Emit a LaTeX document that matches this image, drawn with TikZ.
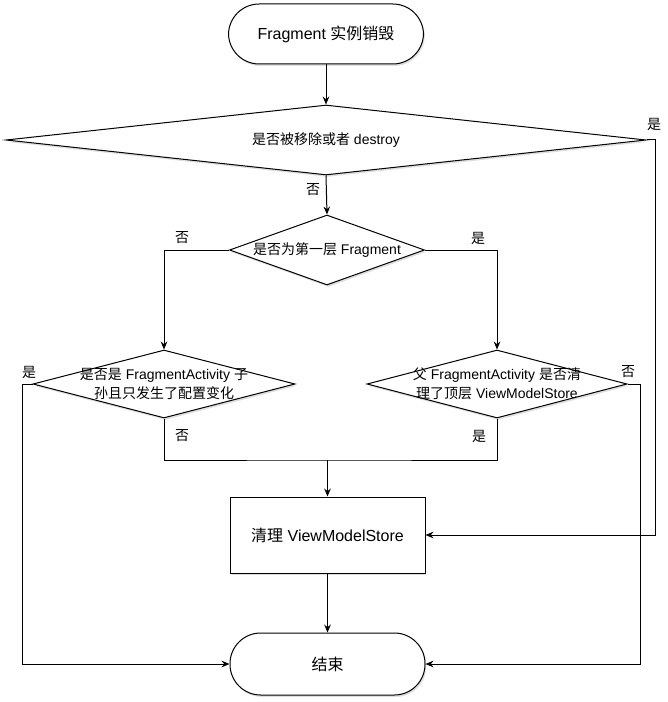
\documentclass[tikz,border=0pt]{standalone}
\usepackage{fontspec}
\setmainfont{Liberation Sans}
\newfontfamily\cjk{Noto Sans CJK SC}
\newcommand\zh[1]{{\cjk #1}}
\usetikzlibrary{arrows.meta,shapes.geometric,shadows}
\begin{document}
\begin{tikzpicture}[x=0.75pt,y=-0.75pt,
  line width=0.75pt,
  shd/.style={drop shadow={opacity=0.25,shadow xshift=1pt,shadow yshift=-1.5pt}},
  term/.style={draw,fill=white,shd,rounded corners=23pt,minimum width=146.25pt,inner sep=0pt,font=\fontsize{12}{14}\selectfont},
  dia/.style={draw,fill=white,shd,diamond,inner sep=0pt,aspect=1},
  dtext/.style={align=center,inner sep=0pt,font=\fontsize{10.5}{14.2}\selectfont},
  procbox/.style={draw,fill=white,shd,minimum width=146.25pt,minimum height=57pt,inner sep=0pt,font=\fontsize{12}{14}\selectfont},
  lbl/.style={inner sep=0pt,font=\fontsize{10.5}{12}\selectfont},
  arr/.style={-{Stealth[length=6pt,width=5pt,inset=2pt]}}]
\useasboundingbox (0,0) rectangle (667,702);

\node[term,minimum height=45pt] (start) at (326,34) {Fragment \zh{实例销毁}};
\node[dia,minimum width=480pt,minimum height=52.5pt] (d1) at (326,140) {};
\node[dtext] (t1) at (d1.center) {\zh{是否被移除或者} destroy};
\node[dia,minimum width=146.25pt,minimum height=52.5pt] (d2) at (327,250) {};
\node[dtext] (t2) at (d2.center) {\zh{是否为第一层} Fragment};
\node[dia,minimum width=196.5pt,minimum height=51pt] (d3) at (164,384) {};
\node[dtext] (t3) at (d3.center) {\zh{是否是} FragmentActivity \zh{子}\\\zh{孙且只发生了配置变化}};
\node[dia,minimum width=195pt,minimum height=51pt] (d4) at (497,384) {};
\node[dtext] (t4) at (d4.center) {\zh{父} FragmentActivity \zh{是否清}\\\zh{理了顶层} ViewModelStore};
\node[procbox] (box) at (327.5,535) {\zh{清理} ViewModelStore};
\node[term,minimum height=46.5pt] (end) at (327.5,664) {\zh{结束}};
\coordinate (m) at (327.5,460);

\draw[arr] (start.south) -- (d1.north);
\draw[arr] (d1.south) -- (d2.north);
\draw[arr] (d1.east) -- ++(9,0) |- (box.east);
\draw[arr] (d2.west) -| (d3.north);
\draw[arr] (d2.east) -| (d4.north);
\draw[arr] (d3.west) -- ++(-10,0) |- (end.west);
\draw[arr] (d4.east) -- ++(13,0) |- (end.east);
\draw (d3.south) |- (m) -| (d4.south);
\draw[arr] (m) -- (box.north);
\draw[arr] (box.south) -- (end.north);

\node[lbl] (l1) at (313,190) {\zh{否}};
\node[lbl] (l2) at (654,124) {\zh{是}};
\node[lbl] (l3) at (182,238) {\zh{否}};
\node[lbl] (l4) at (478,238) {\zh{是}};
\node[lbl] (l5) at (29,372) {\zh{是}};
\node[lbl] (l6) at (182,436) {\zh{否}};
\node[lbl] (l7) at (628,372) {\zh{否}};
\node[lbl] (l8) at (479,436) {\zh{是}};
\end{tikzpicture}
\end{document}
